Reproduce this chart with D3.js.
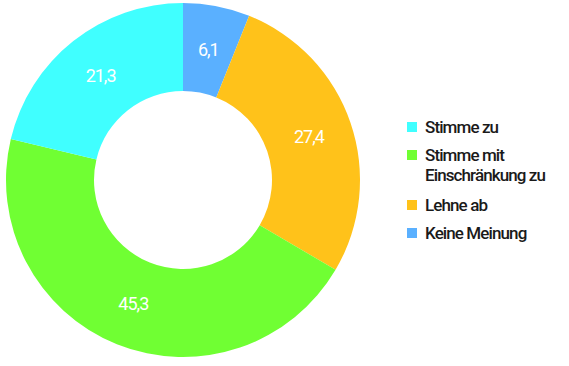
<!DOCTYPE html>
<html><head><meta charset="utf-8">
<script src="https://cdn.jsdelivr.net/npm/d3@7"></script>
<style>body{margin:0;background:#fff;}svg{display:block;}</style>
</head><body>
<svg id="c" width="569" height="366"></svg>
<script>
const categories = ["Keine Meinung", "Lehne ab", "Stimme mit Einschränkung zu", "Stimme zu"];
const values = [6.1, 27.4, 45.3, 21.3];
const colors = ["#5AB0FF", "#FFC21A", "#70FF33", "#40FFFF"];
const legendOrder = ["Stimme zu", "Stimme mit Einschränkung zu", "Lehne ab", "Keine Meinung"];
const legendLines = [["Stimme zu"], ["Stimme mit", "Einschränkung zu"], ["Lehne ab"], ["Keine Meinung"]];

const svg = d3.select("#c");
const cx = 183, cy = 180, R = 177, r = 89;
const data = categories.map((c, i) => ({c, v: values[i], col: colors[i]}));
const pie = d3.pie().value(d => d.v).sort(null);
const arc = d3.arc().innerRadius(r).outerRadius(R);
const g = svg.append("g").attr("transform", `translate(${cx},${cy})`);
const arcs = pie(data);
g.selectAll("path").data(arcs).join("path").attr("d", arc).attr("fill", d => d.data.col);
g.selectAll("text").data(arcs).join("text")
  .attr("transform", d => `translate(${arc.centroid(d)})`)
  .attr("text-anchor", "middle").attr("dy", "0.35em")
  .attr("fill", "#fff").attr("font-family", "Roboto").attr("font-size", 18)
  .attr("letter-spacing", -1)
  .text(d => String(d.data.v).replace(".", ","));

const colorOf = c => colors[categories.indexOf(c)];
const lg = svg.append("g").attr("font-family", "Roboto").attr("font-size", 17).attr("font-weight", 500).attr("fill", "#1a1a1a");
let y = 127;
legendOrder.forEach((c, i) => {
  const lines = legendLines[i];
  lg.append("rect").attr("x", 407).attr("y", y - 5).attr("width", 10).attr("height", 10).attr("fill", colorOf(c));
  lines.forEach((t, j) => {
    lg.append("text").attr("x", 425).attr("y", y + j * 20).attr("dy", "0.35em").attr("letter-spacing", -0.9).text(t);
  });
  y += 28 + (lines.length - 1) * 22;
});
</script>
</body></html>
